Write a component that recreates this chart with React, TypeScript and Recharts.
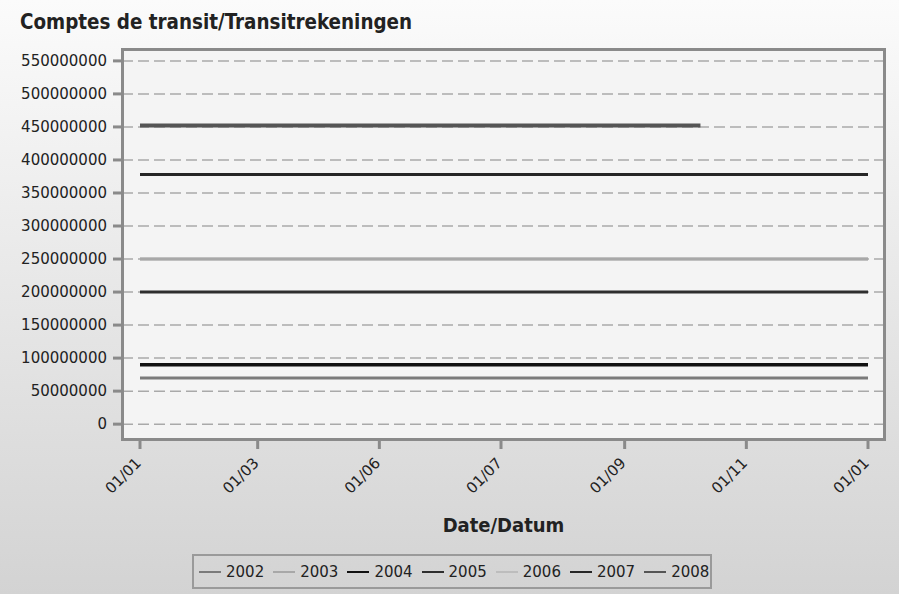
import { CartesianGrid, Line, LineChart, XAxis, YAxis } from "recharts";

// day offsets within the year where readings are taken
const days = [0, 59, 120, 181, 243, 281, 304, 365];

const s2002 = [70000000, 70000000, 70000000, 70000000, 70000000, 70000000, 70000000, 70000000];
const s2003 = [250000000, 250000000, 250000000, 250000000, 250000000, 250000000, 250000000, 250000000];
const s2004 = [90000000, 90000000, 90000000, 90000000, 90000000, 90000000, 90000000, 90000000];
const s2005 = [200000000, 200000000, 200000000, 200000000, 200000000, 200000000, 200000000, 200000000];
const s2006 = [250000000, 250000000, 250000000, 250000000, 250000000, 250000000, 250000000, 250000000];
const s2007 = [378000000, 378000000, 378000000, 378000000, 378000000, 378000000, 378000000, 378000000];
const s2008 = [452000000, 452000000, 452000000, 452000000, 452000000, 452000000, null, null];

const xTickDays = [0, 59, 120, 181, 243, 304, 365];
const xTickLabels = ["01/01", "01/03", "01/06", "01/07", "01/09", "01/11", "01/01"];
const yTicks = [
  0, 50000000, 100000000, 150000000, 200000000, 250000000, 300000000, 350000000, 400000000,
  450000000, 500000000, 550000000,
];

const series = [
  { key: "2002", values: s2002, color: "#7a7a7a", width: 3 },
  { key: "2006", values: s2006, color: "#bdbdbd", width: 3 },
  { key: "2003", values: s2003, color: "#a8a8a8", width: 3 },
  { key: "2004", values: s2004, color: "#111111", width: 3.5 },
  { key: "2005", values: s2005, color: "#2e2e2e", width: 3 },
  { key: "2007", values: s2007, color: "#262626", width: 3 },
  { key: "2008", values: s2008, color: "#555555", width: 4 },
];
const legendOrder = ["2002", "2003", "2004", "2005", "2006", "2007", "2008"];

const rows = days.map((d, i) => {
  const row: Record<string, number | null> = { day: d };
  series.forEach((s) => {
    row[s.key] = s.values[i];
  });
  return row;
});

const font = "'DejaVu Sans', sans-serif";
const boldFont = "'DejaVu Sans Condensed', 'DejaVu Sans', sans-serif";

// slanted date label, its end sits just under the tick mark
function DateTick(props: any) {
  const { x, y, index } = props;
  const ax = x + 2;
  const ay = y + 11;
  return (
    <text
      x={ax}
      y={ay}
      textAnchor="end"
      fontSize={15}
      fill="#222"
      fontFamily={font}
      transform={`rotate(-45, ${ax}, ${ay})`}
    >
      {xTickLabels[index]}
    </text>
  );
}

export default function App() {
  return (
    <div
      style={{
        position: "relative",
        width: 899,
        height: 594,
        background: "linear-gradient(#fbfbfb, #d3d3d3)",
        fontFamily: font,
        overflow: "hidden",
      }}
    >
      <style>{`body{margin:0}`}</style>
      <div
        style={{
          position: "absolute",
          left: 20,
          top: 12,
          fontFamily: boldFont,
          fontWeight: "bold",
          fontSize: 20.4,
          lineHeight: 1,
          color: "#222",
          whiteSpace: "nowrap",
        }}
      >
        Comptes de transit/Transitrekeningen
      </div>
      <LineChart
        width={899}
        height={594}
        data={rows}
        margin={{ top: 49, right: 14, left: 0, bottom: 0 }}
        style={{ position: "absolute", left: 0, top: 0 }}
      >
        <CartesianGrid
          vertical={false}
          fill="#f4f4f4"
          stroke="#a9a9a9"
          strokeWidth={1.5}
          strokeDasharray="11 5"
        />
        <XAxis
          type="number"
          dataKey="day"
          domain={[0, 365]}
          ticks={xTickDays}
          interval={0}
          padding={{ left: 18, right: 17 }}
          height={154}
          axisLine={false}
          tickSize={9}
          tickMargin={4}
          tickLine={{ stroke: "#8a8a8a", strokeWidth: 3 }}
          tick={<DateTick />}
        />
        <YAxis
          domain={[-24000000, 568000000]}
          ticks={yTicks}
          interval={0}
          width={122}
          axisLine={false}
          tickSize={9}
          tickMargin={6}
          tickLine={{ stroke: "#8a8a8a", strokeWidth: 3 }}
          tick={{ fontSize: 15, fill: "#222", fontFamily: font }}
        />
        {series.map((s) => (
          <Line
            key={s.key}
            dataKey={s.key}
            stroke={s.color}
            strokeWidth={s.width}
            dot={false}
            type="linear"
            isAnimationActive={false}
          />
        ))}
      </LineChart>
      <div
        style={{
          position: "absolute",
          left: 121,
          top: 48,
          width: 765,
          height: 393,
          border: "3px solid #8a8a8a",
          boxSizing: "border-box",
          pointerEvents: "none",
        }}
      />
      <div
        style={{
          position: "absolute",
          left: 122,
          width: 763,
          top: 515,
          textAlign: "center",
          fontFamily: boldFont,
          fontWeight: "bold",
          fontSize: 20,
          lineHeight: 1,
          color: "#222",
        }}
      >
        Date/Datum
      </div>
      <div
        style={{
          position: "absolute",
          left: 192,
          top: 554,
          width: 520,
          height: 35,
          border: "2px solid #9a9a9a",
          boxSizing: "border-box",
          display: "flex",
          alignItems: "center",
          paddingLeft: 5,
          fontSize: 15,
          color: "#222",
        }}
      >
        {legendOrder.map((k) => {
          const s = series.find((x) => x.key === k)!;
          return (
            <div key={k} style={{ display: "flex", alignItems: "center", marginRight: 9 }}>
              <span
                style={{ display: "inline-block", width: 22, height: 2, background: s.color, marginRight: 5 }}
              />
              <span>{k}</span>
            </div>
          );
        })}
      </div>
    </div>
  );
}
